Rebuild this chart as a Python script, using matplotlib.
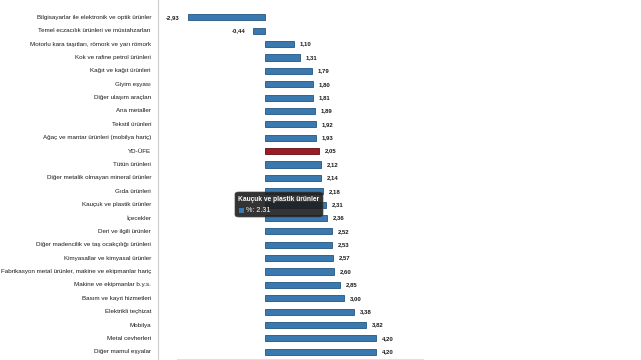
import matplotlib
matplotlib.use("Agg")
import matplotlib.pyplot as plt
from matplotlib.patches import FancyBboxPatch, Rectangle

categories = [
    "Bilgisayarlar ile elektronik ve optik ürünler",
    "Temel eczacılık ürünleri ve müstahzarları",
    "Motorlu kara taşıtları, römork ve yarı römork",
    "Kok ve rafine petrol ürünleri",
    "Kağıt ve kağıt ürünleri",
    "Giyim eşyası",
    "Diğer ulaşım araçları",
    "Ana metaller",
    "Tekstil ürünleri",
    "Ağaç ve mantar ürünleri (mobilya hariç)",
    "YD-ÜFE",
    "Tütün ürünleri",
    "Diğer metalik olmayan mineral ürünler",
    "Gıda ürünleri",
    "Kauçuk ve plastik ürünler",
    "İçecekler",
    "Deri ve ilgili ürünler",
    "Diğer madencilik ve taş ocakçılığı ürünleri",
    "Kimyasallar ve kimyasal ürünler",
    "Fabrikasyon metal ürünler, makine ve ekipmanlar hariç",
    "Makine ve ekipmanlar b.y.s.",
    "Basım ve kayıt hizmetleri",
    "Elektrikli teçhizat",
    "Mobilya",
    "Metal cevherleri",
    "Diğer mamul eşyalar",
]
values = [-2.93, -0.44, 1.10, 1.31, 1.79, 1.80, 1.81, 1.89, 1.92, 1.93, 2.05,
          2.12, 2.14, 2.18, 2.31, 2.36, 2.52, 2.53, 2.57, 2.60, 2.85, 3.00,
          3.38, 3.82, 4.20, 4.20]
highlight = "YD-ÜFE"
tooltip_cat = "Kauçuk ve plastik ürünler"

W, H, DPI = 641, 360, 100
fig = plt.figure(figsize=(W / DPI, H / DPI), dpi=DPI)
fig.patch.set_facecolor("white")

ax_left = 158
px_per_unit = 26.4
zero_px = 265
ax = fig.add_axes([ax_left / W, 0, 1 - ax_left / W, 1])
xmin = -(zero_px - ax_left) / px_per_unit
xmax = (W - zero_px) / px_per_unit
ax.set_xlim(xmin, xmax)
first_c, step = 17.3, 13.38
ax.set_ylim((H - first_c) / step, -first_c / step)

blue = "#3a78b0"
red = "#9e1b22"
colors = [red if c == highlight else blue for c in categories]
edges = ["#5a1014" if c == highlight else "#23557f" for c in categories]
ypos = list(range(len(categories)))
ax.barh(ypos, values, height=0.46, color=colors, edgecolor=edges, linewidth=0.6)

for y, v in zip(ypos, values):
    txt = f"{v:.2f}".replace(".", ",")
    if v >= 0:
        ax.text(v + 0.22, y, txt, ha="left", va="center", fontsize=4.3,
                fontweight="bold", color="#1a1a1a", family="Liberation Sans")
    else:
        ax.text(v - 0.3, y, txt, ha="right", va="center", fontsize=4.3,
                fontweight="bold", color="#1a1a1a", family="Liberation Sans")

for y, c in zip(ypos, categories):
    ax.text(xmin - 7 / px_per_unit, y, c, ha="right", va="center", fontsize=4.5,
            color="#1a1a1a", family="Liberation Sans", clip_on=False)

ax.set_xticks([])
ax.set_yticks([])
for s in ["top", "right", "bottom"]:
    ax.spines[s].set_visible(False)
ax.spines["left"].set_color("#cccccc")
ax.spines["left"].set_linewidth(0.8)

# faint bottom line
fig.add_artist(plt.Line2D([177 / W, 423 / W], [1.5 / H, 1.5 / H], color="#e0e0e0", lw=0.8))

# tooltip
ti = categories.index(tooltip_cat)
tx0, ty0, tw, th = 235, 192, 88, 25
box = FancyBboxPatch((tx0 / W, 1 - (ty0 + th) / H), tw / W, th / H,
                     boxstyle="round,pad=0,rounding_size=0.006",
                     transform=fig.transFigure, facecolor="#1e1e1e", alpha=0.9,
                     edgecolor="#444444", linewidth=0.5, zorder=10)
fig.add_artist(box)
fig.text((tx0 + 3) / W, 1 - (ty0 + 7.5) / H, tooltip_cat, color="white", fontsize=4.8,
         fontweight="bold", va="center", ha="left", family="Liberation Sans", zorder=11)
fig.add_artist(Rectangle(((tx0 + 4) / W, 1 - (ty0 + 20.5) / H), 5 / W, 5 / H,
                         transform=fig.transFigure, facecolor=blue, edgecolor="none", zorder=11))
fig.text((tx0 + 11) / W, 1 - (ty0 + 18) / H, f"%: {values[ti]:.2f}", color="white",
         fontsize=5.2, va="center", ha="left", family="Liberation Sans", zorder=11)

fig.savefig("out.png", dpi=DPI)
